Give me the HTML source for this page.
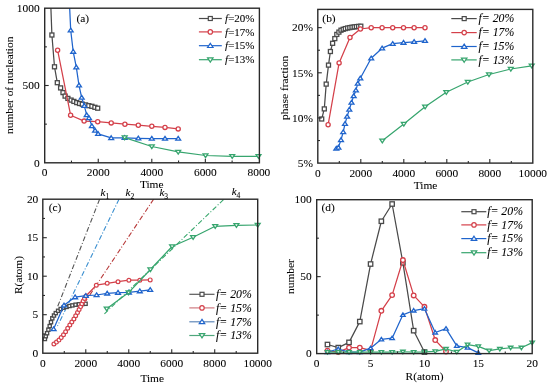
<!DOCTYPE html>
<html><head><meta charset="utf-8"><style>
html,body{margin:0;padding:0;background:#fff;width:550px;height:386px;overflow:hidden}
svg{display:block;filter:blur(0.35px)}
text{font-family:"Liberation Serif",serif;stroke:#000;stroke-width:0.07px}
</style></head><body>
<svg width="550" height="386" viewBox="0 0 550 386">
<rect width="550" height="386" fill="#fff"/>
<clipPath id="ca"><rect x="44.7" y="8.2" width="214.7" height="154.6"/></clipPath>
<polyline points="50.6,0 51.9,35 54.5,66.8 57.3,82.7 60.6,87.9 63,92.6 65.1,96.1 67.9,98.4 71.1,100.1 73.9,101.4 76.7,102.6 79.5,103.5 82.3,104.2 85.6,104.9 88.8,105.7 91.9,106.3 94.9,107.3 97.7,108.2" fill="none" stroke="#4a4a4a" stroke-width="1.25" stroke-linejoin="round" clip-path="url(#ca)"/>
<rect x="49.9" y="33" width="4" height="4" fill="#fff" stroke="#4a4a4a" stroke-width="1.3"/>
<rect x="52.5" y="64.8" width="4" height="4" fill="#fff" stroke="#4a4a4a" stroke-width="1.3"/>
<rect x="55.3" y="80.7" width="4" height="4" fill="#fff" stroke="#4a4a4a" stroke-width="1.3"/>
<rect x="58.6" y="85.9" width="4" height="4" fill="#fff" stroke="#4a4a4a" stroke-width="1.3"/>
<rect x="61" y="90.6" width="4" height="4" fill="#fff" stroke="#4a4a4a" stroke-width="1.3"/>
<rect x="63.1" y="94.1" width="4" height="4" fill="#fff" stroke="#4a4a4a" stroke-width="1.3"/>
<rect x="65.9" y="96.4" width="4" height="4" fill="#fff" stroke="#4a4a4a" stroke-width="1.3"/>
<rect x="69.1" y="98.1" width="4" height="4" fill="#fff" stroke="#4a4a4a" stroke-width="1.3"/>
<rect x="71.9" y="99.4" width="4" height="4" fill="#fff" stroke="#4a4a4a" stroke-width="1.3"/>
<rect x="74.7" y="100.6" width="4" height="4" fill="#fff" stroke="#4a4a4a" stroke-width="1.3"/>
<rect x="77.5" y="101.5" width="4" height="4" fill="#fff" stroke="#4a4a4a" stroke-width="1.3"/>
<rect x="80.3" y="102.2" width="4" height="4" fill="#fff" stroke="#4a4a4a" stroke-width="1.3"/>
<rect x="83.6" y="102.9" width="4" height="4" fill="#fff" stroke="#4a4a4a" stroke-width="1.3"/>
<rect x="86.8" y="103.7" width="4" height="4" fill="#fff" stroke="#4a4a4a" stroke-width="1.3"/>
<rect x="89.9" y="104.3" width="4" height="4" fill="#fff" stroke="#4a4a4a" stroke-width="1.3"/>
<rect x="92.9" y="105.3" width="4" height="4" fill="#fff" stroke="#4a4a4a" stroke-width="1.3"/>
<rect x="95.7" y="106.2" width="4" height="4" fill="#fff" stroke="#4a4a4a" stroke-width="1.3"/>
<polyline points="57.6,50.2 70.6,115.2 84.1,121.1 97.7,121.7 111.2,122.9 124.9,124.2 138.3,125.2 151.8,126.3 165,127.4 178.2,128.9" fill="none" stroke="#d4404a" stroke-width="1.25" stroke-linejoin="round" clip-path="url(#ca)"/>
<circle cx="57.6" cy="50.2" r="2.1" fill="#fff" stroke="#d4404a" stroke-width="1.3"/>
<circle cx="70.6" cy="115.2" r="2.1" fill="#fff" stroke="#d4404a" stroke-width="1.3"/>
<circle cx="84.1" cy="121.1" r="2.1" fill="#fff" stroke="#d4404a" stroke-width="1.3"/>
<circle cx="97.7" cy="121.7" r="2.1" fill="#fff" stroke="#d4404a" stroke-width="1.3"/>
<circle cx="111.2" cy="122.9" r="2.1" fill="#fff" stroke="#d4404a" stroke-width="1.3"/>
<circle cx="124.9" cy="124.2" r="2.1" fill="#fff" stroke="#d4404a" stroke-width="1.3"/>
<circle cx="138.3" cy="125.2" r="2.1" fill="#fff" stroke="#d4404a" stroke-width="1.3"/>
<circle cx="151.8" cy="126.3" r="2.1" fill="#fff" stroke="#d4404a" stroke-width="1.3"/>
<circle cx="165" cy="127.4" r="2.1" fill="#fff" stroke="#d4404a" stroke-width="1.3"/>
<circle cx="178.2" cy="128.9" r="2.1" fill="#fff" stroke="#d4404a" stroke-width="1.3"/>
<polyline points="69.3,0 70.7,30.3 73.2,51.6 76.3,67.2 79,85.3 81.7,97.6 84.3,105.8 86.7,114.9 89,118.1 91.9,125.9 95.1,130.6 98.1,133.8 111.2,137.9 124.6,137.8 138.3,138.3 151.8,138.6 165,138.6 178.2,138.6" fill="none" stroke="#1f64cc" stroke-width="1.25" stroke-linejoin="round" clip-path="url(#ca)"/>
<polygon points="70.7,28.18 73.15,31.93 68.25,31.93" fill="#fff" stroke="#1f64cc" stroke-width="1.3" stroke-linejoin="miter"/>
<polygon points="73.2,49.48 75.65,53.23 70.75,53.23" fill="#fff" stroke="#1f64cc" stroke-width="1.3" stroke-linejoin="miter"/>
<polygon points="76.3,65.08 78.75,68.83 73.85,68.83" fill="#fff" stroke="#1f64cc" stroke-width="1.3" stroke-linejoin="miter"/>
<polygon points="79,83.17 81.45,86.92 76.55,86.92" fill="#fff" stroke="#1f64cc" stroke-width="1.3" stroke-linejoin="miter"/>
<polygon points="81.7,95.47 84.15,99.22 79.25,99.22" fill="#fff" stroke="#1f64cc" stroke-width="1.3" stroke-linejoin="miter"/>
<polygon points="84.3,103.67 86.75,107.42 81.85,107.42" fill="#fff" stroke="#1f64cc" stroke-width="1.3" stroke-linejoin="miter"/>
<polygon points="86.7,112.78 89.15,116.53 84.25,116.53" fill="#fff" stroke="#1f64cc" stroke-width="1.3" stroke-linejoin="miter"/>
<polygon points="89,115.97 91.45,119.72 86.55,119.72" fill="#fff" stroke="#1f64cc" stroke-width="1.3" stroke-linejoin="miter"/>
<polygon points="91.9,123.78 94.35,127.53 89.45,127.53" fill="#fff" stroke="#1f64cc" stroke-width="1.3" stroke-linejoin="miter"/>
<polygon points="95.1,128.47 97.55,132.22 92.65,132.22" fill="#fff" stroke="#1f64cc" stroke-width="1.3" stroke-linejoin="miter"/>
<polygon points="98.1,131.68 100.55,135.43 95.65,135.43" fill="#fff" stroke="#1f64cc" stroke-width="1.3" stroke-linejoin="miter"/>
<polygon points="111.2,135.78 113.65,139.53 108.75,139.53" fill="#fff" stroke="#1f64cc" stroke-width="1.3" stroke-linejoin="miter"/>
<polygon points="124.6,135.68 127.05,139.43 122.15,139.43" fill="#fff" stroke="#1f64cc" stroke-width="1.3" stroke-linejoin="miter"/>
<polygon points="138.3,136.18 140.75,139.93 135.85,139.93" fill="#fff" stroke="#1f64cc" stroke-width="1.3" stroke-linejoin="miter"/>
<polygon points="151.8,136.47 154.25,140.22 149.35,140.22" fill="#fff" stroke="#1f64cc" stroke-width="1.3" stroke-linejoin="miter"/>
<polygon points="165,136.47 167.45,140.22 162.55,140.22" fill="#fff" stroke="#1f64cc" stroke-width="1.3" stroke-linejoin="miter"/>
<polygon points="178.2,136.47 180.65,140.22 175.75,140.22" fill="#fff" stroke="#1f64cc" stroke-width="1.3" stroke-linejoin="miter"/>
<polyline points="124.7,137.6 151.8,146.5 178.2,151.9 205.5,155.5 232.2,156.3 258.5,156.3" fill="none" stroke="#37a56e" stroke-width="1.25" stroke-linejoin="round" clip-path="url(#ca)"/>
<polygon points="124.7,139.72 127.15,135.97 122.25,135.97" fill="#fff" stroke="#37a56e" stroke-width="1.3" stroke-linejoin="miter"/>
<polygon points="151.8,148.62 154.25,144.88 149.35,144.88" fill="#fff" stroke="#37a56e" stroke-width="1.3" stroke-linejoin="miter"/>
<polygon points="178.2,154.03 180.65,150.28 175.75,150.28" fill="#fff" stroke="#37a56e" stroke-width="1.3" stroke-linejoin="miter"/>
<polygon points="205.5,157.62 207.95,153.88 203.05,153.88" fill="#fff" stroke="#37a56e" stroke-width="1.3" stroke-linejoin="miter"/>
<polygon points="232.2,158.43 234.65,154.68 229.75,154.68" fill="#fff" stroke="#37a56e" stroke-width="1.3" stroke-linejoin="miter"/>
<polygon points="258.5,158.43 260.95,154.68 256.05,154.68" fill="#fff" stroke="#37a56e" stroke-width="1.3" stroke-linejoin="miter"/>
<line x1="98.25" y1="162.8" x2="98.25" y2="158.8" stroke="#2a2a2a" stroke-width="1.1"/>
<line x1="151.8" y1="162.8" x2="151.8" y2="158.8" stroke="#2a2a2a" stroke-width="1.1"/>
<line x1="205.35" y1="162.8" x2="205.35" y2="158.8" stroke="#2a2a2a" stroke-width="1.1"/>
<line x1="71.47" y1="162.8" x2="71.47" y2="160.6" stroke="#2a2a2a" stroke-width="1.1"/>
<line x1="125.03" y1="162.8" x2="125.03" y2="160.6" stroke="#2a2a2a" stroke-width="1.1"/>
<line x1="178.57" y1="162.8" x2="178.57" y2="160.6" stroke="#2a2a2a" stroke-width="1.1"/>
<line x1="232.12" y1="162.8" x2="232.12" y2="160.6" stroke="#2a2a2a" stroke-width="1.1"/>
<line x1="44.7" y1="85.5" x2="48.7" y2="85.5" stroke="#2a2a2a" stroke-width="1.1"/>
<line x1="44.7" y1="124.15" x2="46.9" y2="124.15" stroke="#2a2a2a" stroke-width="1.1"/>
<line x1="44.7" y1="46.85" x2="46.9" y2="46.85" stroke="#2a2a2a" stroke-width="1.1"/>
<rect x="44.7" y="8.2" width="214.7" height="154.6" fill="none" stroke="#2a2a2a" stroke-width="1.4"/>
<text x="39.6" y="166.5" font-size="11.4" text-anchor="end" fill="#000">0</text>
<text x="39.6" y="89.2" font-size="11.4" text-anchor="end" fill="#000">500</text>
<text x="39.6" y="11.9" font-size="11.4" text-anchor="end" fill="#000">1000</text>
<text x="44.7" y="176" font-size="11.4" text-anchor="middle" fill="#000">0</text>
<text x="98.25" y="176" font-size="11.4" text-anchor="middle" fill="#000">2000</text>
<text x="151.8" y="176" font-size="11.4" text-anchor="middle" fill="#000">4000</text>
<text x="205.35" y="176" font-size="11.4" text-anchor="middle" fill="#000">6000</text>
<text x="258.9" y="176" font-size="11.4" text-anchor="middle" fill="#000">8000</text>
<text x="151.7" y="187.6" font-size="11.4" text-anchor="middle" fill="#000">Time</text>
<text x="13.2" y="85.3" font-size="11.4" text-anchor="middle" transform="rotate(-90 13.2 85.3)" fill="#000">number of nucleation</text>
<text x="82.8" y="22" font-size="11.4" text-anchor="middle" fill="#000">(a)</text>
<line x1="198.9" y1="18.5" x2="221.8" y2="18.5" stroke="#4a4a4a" stroke-width="1.2"/>
<rect x="208.3" y="16.5" width="4" height="4" fill="#fff" stroke="#4a4a4a" stroke-width="1.2"/>
<text x="225.1" y="22.2" font-size="11" fill="#000"><tspan font-style="italic">f</tspan>=20%</text>
<line x1="198.9" y1="31.9" x2="221.8" y2="31.9" stroke="#d4404a" stroke-width="1.2"/>
<circle cx="210.3" cy="31.9" r="2.2" fill="#fff" stroke="#d4404a" stroke-width="1.2"/>
<text x="225.1" y="35.6" font-size="11" fill="#000"><tspan font-style="italic">f</tspan>=17%</text>
<line x1="198.9" y1="45.7" x2="221.8" y2="45.7" stroke="#1f64cc" stroke-width="1.2"/>
<polygon points="210.3,43.32 213.04,47.52 207.56,47.52" fill="#fff" stroke="#1f64cc" stroke-width="1.2" stroke-linejoin="miter"/>
<text x="225.1" y="49.4" font-size="11" fill="#000"><tspan font-style="italic">f</tspan>=15%</text>
<line x1="198.9" y1="59.7" x2="221.8" y2="59.7" stroke="#37a56e" stroke-width="1.2"/>
<polygon points="210.3,62.08 213.04,57.88 207.56,57.88" fill="#fff" stroke="#37a56e" stroke-width="1.2" stroke-linejoin="miter"/>
<text x="225.1" y="63.4" font-size="11" fill="#000"><tspan font-style="italic">f</tspan>=13%</text>
<clipPath id="cb"><rect x="317.8" y="9.4" width="215" height="153.7"/></clipPath>
<polyline points="321.7,119 324.3,108.9 326.2,84.1 328.5,65.1 330.4,51.5 332.6,43.3 334.8,38.6 336.8,34.4 338.9,32.1 341,30.2 343.2,29.3 345.3,28.6 347.6,28 349.8,27.6 352,27.2 354.2,26.9 356.4,26.6 358.6,26.4 360.8,26.2" fill="none" stroke="#4a4a4a" stroke-width="1.25" stroke-linejoin="round" clip-path="url(#cb)"/>
<rect x="319.7" y="117" width="4" height="4" fill="#fff" stroke="#4a4a4a" stroke-width="1.3"/>
<rect x="322.3" y="106.9" width="4" height="4" fill="#fff" stroke="#4a4a4a" stroke-width="1.3"/>
<rect x="324.2" y="82.1" width="4" height="4" fill="#fff" stroke="#4a4a4a" stroke-width="1.3"/>
<rect x="326.5" y="63.1" width="4" height="4" fill="#fff" stroke="#4a4a4a" stroke-width="1.3"/>
<rect x="328.4" y="49.5" width="4" height="4" fill="#fff" stroke="#4a4a4a" stroke-width="1.3"/>
<rect x="330.6" y="41.3" width="4" height="4" fill="#fff" stroke="#4a4a4a" stroke-width="1.3"/>
<rect x="332.8" y="36.6" width="4" height="4" fill="#fff" stroke="#4a4a4a" stroke-width="1.3"/>
<rect x="334.8" y="32.4" width="4" height="4" fill="#fff" stroke="#4a4a4a" stroke-width="1.3"/>
<rect x="336.9" y="30.1" width="4" height="4" fill="#fff" stroke="#4a4a4a" stroke-width="1.3"/>
<rect x="339" y="28.2" width="4" height="4" fill="#fff" stroke="#4a4a4a" stroke-width="1.3"/>
<rect x="341.2" y="27.3" width="4" height="4" fill="#fff" stroke="#4a4a4a" stroke-width="1.3"/>
<rect x="343.3" y="26.6" width="4" height="4" fill="#fff" stroke="#4a4a4a" stroke-width="1.3"/>
<rect x="345.6" y="26" width="4" height="4" fill="#fff" stroke="#4a4a4a" stroke-width="1.3"/>
<rect x="347.8" y="25.6" width="4" height="4" fill="#fff" stroke="#4a4a4a" stroke-width="1.3"/>
<rect x="350" y="25.2" width="4" height="4" fill="#fff" stroke="#4a4a4a" stroke-width="1.3"/>
<rect x="352.2" y="24.9" width="4" height="4" fill="#fff" stroke="#4a4a4a" stroke-width="1.3"/>
<rect x="354.4" y="24.6" width="4" height="4" fill="#fff" stroke="#4a4a4a" stroke-width="1.3"/>
<rect x="356.6" y="24.4" width="4" height="4" fill="#fff" stroke="#4a4a4a" stroke-width="1.3"/>
<rect x="358.8" y="24.2" width="4" height="4" fill="#fff" stroke="#4a4a4a" stroke-width="1.3"/>
<polyline points="328.1,124.8 339.1,62.9 350,37.5 360.4,29 371.2,27.7 382.1,27.7 392.7,27.7 403.5,27.7 414.1,27.7 425,27.7" fill="none" stroke="#d4404a" stroke-width="1.25" stroke-linejoin="round" clip-path="url(#cb)"/>
<circle cx="328.1" cy="124.8" r="2.1" fill="#fff" stroke="#d4404a" stroke-width="1.3"/>
<circle cx="339.1" cy="62.9" r="2.1" fill="#fff" stroke="#d4404a" stroke-width="1.3"/>
<circle cx="350" cy="37.5" r="2.1" fill="#fff" stroke="#d4404a" stroke-width="1.3"/>
<circle cx="360.4" cy="29" r="2.1" fill="#fff" stroke="#d4404a" stroke-width="1.3"/>
<circle cx="371.2" cy="27.7" r="2.1" fill="#fff" stroke="#d4404a" stroke-width="1.3"/>
<circle cx="382.1" cy="27.7" r="2.1" fill="#fff" stroke="#d4404a" stroke-width="1.3"/>
<circle cx="392.7" cy="27.7" r="2.1" fill="#fff" stroke="#d4404a" stroke-width="1.3"/>
<circle cx="403.5" cy="27.7" r="2.1" fill="#fff" stroke="#d4404a" stroke-width="1.3"/>
<circle cx="414.1" cy="27.7" r="2.1" fill="#fff" stroke="#d4404a" stroke-width="1.3"/>
<circle cx="425" cy="27.7" r="2.1" fill="#fff" stroke="#d4404a" stroke-width="1.3"/>
<polyline points="336.3,148.6 338.4,147.4 341,139.9 343.2,132 345,123.8 347.1,116.6 349.3,109.6 351.5,102.5 353.7,95.9 355.9,90.2 357.8,83.6 360.3,78.3 371.2,58.2 382.1,48.2 392.7,43.7 403.5,42.6 414.1,41.8 425,40.8" fill="none" stroke="#1f64cc" stroke-width="1.25" stroke-linejoin="round" clip-path="url(#cb)"/>
<polygon points="336.3,146.47 338.75,150.22 333.85,150.22" fill="#fff" stroke="#1f64cc" stroke-width="1.3" stroke-linejoin="miter"/>
<polygon points="338.4,145.28 340.85,149.03 335.95,149.03" fill="#fff" stroke="#1f64cc" stroke-width="1.3" stroke-linejoin="miter"/>
<polygon points="341,137.78 343.45,141.53 338.55,141.53" fill="#fff" stroke="#1f64cc" stroke-width="1.3" stroke-linejoin="miter"/>
<polygon points="343.2,129.88 345.65,133.62 340.75,133.62" fill="#fff" stroke="#1f64cc" stroke-width="1.3" stroke-linejoin="miter"/>
<polygon points="345,121.67 347.45,125.42 342.55,125.42" fill="#fff" stroke="#1f64cc" stroke-width="1.3" stroke-linejoin="miter"/>
<polygon points="347.1,114.47 349.55,118.22 344.65,118.22" fill="#fff" stroke="#1f64cc" stroke-width="1.3" stroke-linejoin="miter"/>
<polygon points="349.3,107.47 351.75,111.22 346.85,111.22" fill="#fff" stroke="#1f64cc" stroke-width="1.3" stroke-linejoin="miter"/>
<polygon points="351.5,100.38 353.95,104.12 349.05,104.12" fill="#fff" stroke="#1f64cc" stroke-width="1.3" stroke-linejoin="miter"/>
<polygon points="353.7,93.78 356.15,97.53 351.25,97.53" fill="#fff" stroke="#1f64cc" stroke-width="1.3" stroke-linejoin="miter"/>
<polygon points="355.9,88.08 358.35,91.83 353.45,91.83" fill="#fff" stroke="#1f64cc" stroke-width="1.3" stroke-linejoin="miter"/>
<polygon points="357.8,81.47 360.25,85.22 355.35,85.22" fill="#fff" stroke="#1f64cc" stroke-width="1.3" stroke-linejoin="miter"/>
<polygon points="360.3,76.17 362.75,79.92 357.85,79.92" fill="#fff" stroke="#1f64cc" stroke-width="1.3" stroke-linejoin="miter"/>
<polygon points="371.2,56.08 373.65,59.83 368.75,59.83" fill="#fff" stroke="#1f64cc" stroke-width="1.3" stroke-linejoin="miter"/>
<polygon points="382.1,46.08 384.55,49.83 379.65,49.83" fill="#fff" stroke="#1f64cc" stroke-width="1.3" stroke-linejoin="miter"/>
<polygon points="392.7,41.58 395.15,45.33 390.25,45.33" fill="#fff" stroke="#1f64cc" stroke-width="1.3" stroke-linejoin="miter"/>
<polygon points="403.5,40.48 405.95,44.23 401.05,44.23" fill="#fff" stroke="#1f64cc" stroke-width="1.3" stroke-linejoin="miter"/>
<polygon points="414.1,39.67 416.55,43.42 411.65,43.42" fill="#fff" stroke="#1f64cc" stroke-width="1.3" stroke-linejoin="miter"/>
<polygon points="425,38.67 427.45,42.42 422.55,42.42" fill="#fff" stroke="#1f64cc" stroke-width="1.3" stroke-linejoin="miter"/>
<polyline points="382.3,140.8 403.8,123.9 425.1,106.8 446.3,92.2 467.8,82 489,74.5 510.8,69 531.7,65.8" fill="none" stroke="#37a56e" stroke-width="1.25" stroke-linejoin="round" clip-path="url(#cb)"/>
<polygon points="382.3,142.93 384.75,139.18 379.85,139.18" fill="#fff" stroke="#37a56e" stroke-width="1.3" stroke-linejoin="miter"/>
<polygon points="403.8,126.03 406.25,122.28 401.35,122.28" fill="#fff" stroke="#37a56e" stroke-width="1.3" stroke-linejoin="miter"/>
<polygon points="425.1,108.92 427.55,105.17 422.65,105.17" fill="#fff" stroke="#37a56e" stroke-width="1.3" stroke-linejoin="miter"/>
<polygon points="446.3,94.33 448.75,90.58 443.85,90.58" fill="#fff" stroke="#37a56e" stroke-width="1.3" stroke-linejoin="miter"/>
<polygon points="467.8,84.12 470.25,80.38 465.35,80.38" fill="#fff" stroke="#37a56e" stroke-width="1.3" stroke-linejoin="miter"/>
<polygon points="489,76.62 491.45,72.88 486.55,72.88" fill="#fff" stroke="#37a56e" stroke-width="1.3" stroke-linejoin="miter"/>
<polygon points="510.8,71.12 513.25,67.38 508.35,67.38" fill="#fff" stroke="#37a56e" stroke-width="1.3" stroke-linejoin="miter"/>
<polygon points="531.7,67.92 534.15,64.17 529.25,64.17" fill="#fff" stroke="#37a56e" stroke-width="1.3" stroke-linejoin="miter"/>
<line x1="360.8" y1="163.1" x2="360.8" y2="159.1" stroke="#2a2a2a" stroke-width="1.1"/>
<line x1="403.8" y1="163.1" x2="403.8" y2="159.1" stroke="#2a2a2a" stroke-width="1.1"/>
<line x1="446.8" y1="163.1" x2="446.8" y2="159.1" stroke="#2a2a2a" stroke-width="1.1"/>
<line x1="489.8" y1="163.1" x2="489.8" y2="159.1" stroke="#2a2a2a" stroke-width="1.1"/>
<line x1="339.3" y1="163.1" x2="339.3" y2="160.9" stroke="#2a2a2a" stroke-width="1.1"/>
<line x1="382.3" y1="163.1" x2="382.3" y2="160.9" stroke="#2a2a2a" stroke-width="1.1"/>
<line x1="425.3" y1="163.1" x2="425.3" y2="160.9" stroke="#2a2a2a" stroke-width="1.1"/>
<line x1="468.3" y1="163.1" x2="468.3" y2="160.9" stroke="#2a2a2a" stroke-width="1.1"/>
<line x1="511.3" y1="163.1" x2="511.3" y2="160.9" stroke="#2a2a2a" stroke-width="1.1"/>
<line x1="317.8" y1="117.95" x2="321.8" y2="117.95" stroke="#2a2a2a" stroke-width="1.1"/>
<line x1="317.8" y1="72.8" x2="321.8" y2="72.8" stroke="#2a2a2a" stroke-width="1.1"/>
<line x1="317.8" y1="27.65" x2="321.8" y2="27.65" stroke="#2a2a2a" stroke-width="1.1"/>
<line x1="317.8" y1="140.53" x2="320" y2="140.53" stroke="#2a2a2a" stroke-width="1.1"/>
<line x1="317.8" y1="95.38" x2="320" y2="95.38" stroke="#2a2a2a" stroke-width="1.1"/>
<line x1="317.8" y1="50.23" x2="320" y2="50.23" stroke="#2a2a2a" stroke-width="1.1"/>
<rect x="317.8" y="9.4" width="215" height="153.7" fill="none" stroke="#2a2a2a" stroke-width="1.4"/>
<text x="313" y="166.8" font-size="11.4" text-anchor="end" fill="#000">5%</text>
<text x="313" y="121.65" font-size="11.4" text-anchor="end" fill="#000">10%</text>
<text x="313" y="76.5" font-size="11.4" text-anchor="end" fill="#000">15%</text>
<text x="313" y="31.35" font-size="11.4" text-anchor="end" fill="#000">20%</text>
<text x="317.8" y="176.6" font-size="11.4" text-anchor="middle" fill="#000">0</text>
<text x="360.8" y="176.6" font-size="11.4" text-anchor="middle" fill="#000">2000</text>
<text x="403.8" y="176.6" font-size="11.4" text-anchor="middle" fill="#000">4000</text>
<text x="446.8" y="176.6" font-size="11.4" text-anchor="middle" fill="#000">6000</text>
<text x="489.8" y="176.6" font-size="11.4" text-anchor="middle" fill="#000">8000</text>
<text x="532.8" y="176.6" font-size="11.4" text-anchor="middle" fill="#000">10000</text>
<text x="425.6" y="189" font-size="11.4" text-anchor="middle" fill="#000">Time</text>
<text x="287.9" y="87.8" font-size="11.4" text-anchor="middle" transform="rotate(-90 287.9 87.8)" fill="#000">phase fraction</text>
<text x="329" y="21.5" font-size="11.4" text-anchor="middle" fill="#000">(b)</text>
<line x1="451.3" y1="18.6" x2="476.7" y2="18.6" stroke="#4a4a4a" stroke-width="1.2"/>
<rect x="462.2" y="16.6" width="4" height="4" fill="#fff" stroke="#4a4a4a" stroke-width="1.2"/>
<text x="478.5" y="22.3" font-size="11.8" font-style="italic" fill="#000">f= 20%</text>
<line x1="451.3" y1="32.6" x2="476.7" y2="32.6" stroke="#d4404a" stroke-width="1.2"/>
<circle cx="464.2" cy="32.6" r="2.2" fill="#fff" stroke="#d4404a" stroke-width="1.2"/>
<text x="478.5" y="36.3" font-size="11.8" font-style="italic" fill="#000">f= 17%</text>
<line x1="451.3" y1="46.5" x2="476.7" y2="46.5" stroke="#1f64cc" stroke-width="1.2"/>
<polygon points="464.2,44.12 466.94,48.32 461.46,48.32" fill="#fff" stroke="#1f64cc" stroke-width="1.2" stroke-linejoin="miter"/>
<text x="478.5" y="50.2" font-size="11.8" font-style="italic" fill="#000">f= 15%</text>
<line x1="451.3" y1="59.9" x2="476.7" y2="59.9" stroke="#37a56e" stroke-width="1.2"/>
<polygon points="464.2,62.28 466.94,58.08 461.46,58.08" fill="#fff" stroke="#37a56e" stroke-width="1.2" stroke-linejoin="miter"/>
<text x="478.5" y="63.6" font-size="11.8" font-style="italic" fill="#000">f= 13%</text>
<clipPath id="cc"><rect x="42.8" y="199.2" width="214.9" height="154"/></clipPath>
<line x1="99.6" y1="199.2" x2="57.5" y2="307" stroke="#555" stroke-width="1.1" stroke-dasharray="5,2,1,2"/>
<line x1="119" y1="199.2" x2="57.5" y2="326" stroke="#3a8fd0" stroke-width="1.1" stroke-dasharray="5,2,1,2"/>
<line x1="153.6" y1="199.2" x2="86" y2="300.7" stroke="#b83a3a" stroke-width="1.1" stroke-dasharray="5,2,1,2"/>
<line x1="223.5" y1="199.6" x2="103.2" y2="315" stroke="#3aa86e" stroke-width="1.1" stroke-dasharray="5,2,1,2"/>
<polyline points="44.9,339 45.8,336.2 47.1,333.2 48.4,329.7 49.7,326.1 51,322.2 52.3,318.3 54,315.5 55.8,313.1 58.1,310.8 60.7,309 63.3,307.7 66.6,306.9 69.5,306 72.4,305.4 75.6,304.7 78.9,304.3 82.1,304.1 85.6,303.8" fill="none" stroke="#4a4a4a" stroke-width="1.25" stroke-linejoin="round" clip-path="url(#cc)"/>
<rect x="43.3" y="337.4" width="3.2" height="3.2" fill="#fff" stroke="#4a4a4a" stroke-width="1.3"/>
<rect x="44.2" y="334.6" width="3.2" height="3.2" fill="#fff" stroke="#4a4a4a" stroke-width="1.3"/>
<rect x="45.5" y="331.6" width="3.2" height="3.2" fill="#fff" stroke="#4a4a4a" stroke-width="1.3"/>
<rect x="46.8" y="328.1" width="3.2" height="3.2" fill="#fff" stroke="#4a4a4a" stroke-width="1.3"/>
<rect x="48.1" y="324.5" width="3.2" height="3.2" fill="#fff" stroke="#4a4a4a" stroke-width="1.3"/>
<rect x="49.4" y="320.6" width="3.2" height="3.2" fill="#fff" stroke="#4a4a4a" stroke-width="1.3"/>
<rect x="50.7" y="316.7" width="3.2" height="3.2" fill="#fff" stroke="#4a4a4a" stroke-width="1.3"/>
<rect x="52.4" y="313.9" width="3.2" height="3.2" fill="#fff" stroke="#4a4a4a" stroke-width="1.3"/>
<rect x="54.2" y="311.5" width="3.2" height="3.2" fill="#fff" stroke="#4a4a4a" stroke-width="1.3"/>
<rect x="56.5" y="309.2" width="3.2" height="3.2" fill="#fff" stroke="#4a4a4a" stroke-width="1.3"/>
<rect x="59.1" y="307.4" width="3.2" height="3.2" fill="#fff" stroke="#4a4a4a" stroke-width="1.3"/>
<rect x="61.7" y="306.1" width="3.2" height="3.2" fill="#fff" stroke="#4a4a4a" stroke-width="1.3"/>
<rect x="65" y="305.3" width="3.2" height="3.2" fill="#fff" stroke="#4a4a4a" stroke-width="1.3"/>
<rect x="67.9" y="304.4" width="3.2" height="3.2" fill="#fff" stroke="#4a4a4a" stroke-width="1.3"/>
<rect x="70.8" y="303.8" width="3.2" height="3.2" fill="#fff" stroke="#4a4a4a" stroke-width="1.3"/>
<rect x="74" y="303.1" width="3.2" height="3.2" fill="#fff" stroke="#4a4a4a" stroke-width="1.3"/>
<rect x="77.3" y="302.7" width="3.2" height="3.2" fill="#fff" stroke="#4a4a4a" stroke-width="1.3"/>
<rect x="80.5" y="302.5" width="3.2" height="3.2" fill="#fff" stroke="#4a4a4a" stroke-width="1.3"/>
<rect x="84" y="302.2" width="3.2" height="3.2" fill="#fff" stroke="#4a4a4a" stroke-width="1.3"/>
<polyline points="53.9,344 56.5,342.1 59,340.1 61.2,337.6 63.5,334.8 65.6,331.7 67.7,328.3 69.8,325 71.8,322 73.9,319 75.7,315.8 77.5,312.6 79.1,309.5 80.6,306.6 81.9,303.8 83.2,300.9 84.5,298.4 86,296 96.3,285.2 107.2,283.3 118,281.7 128.9,280.2 139.8,280.2 150.2,279.9" fill="none" stroke="#d4404a" stroke-width="1.25" stroke-linejoin="round" clip-path="url(#cc)"/>
<circle cx="53.9" cy="344" r="1.9" fill="#fff" stroke="#d4404a" stroke-width="1.2"/>
<circle cx="56.5" cy="342.1" r="1.9" fill="#fff" stroke="#d4404a" stroke-width="1.2"/>
<circle cx="59" cy="340.1" r="1.9" fill="#fff" stroke="#d4404a" stroke-width="1.2"/>
<circle cx="61.2" cy="337.6" r="1.9" fill="#fff" stroke="#d4404a" stroke-width="1.2"/>
<circle cx="63.5" cy="334.8" r="1.9" fill="#fff" stroke="#d4404a" stroke-width="1.2"/>
<circle cx="65.6" cy="331.7" r="1.9" fill="#fff" stroke="#d4404a" stroke-width="1.2"/>
<circle cx="67.7" cy="328.3" r="1.9" fill="#fff" stroke="#d4404a" stroke-width="1.2"/>
<circle cx="69.8" cy="325" r="1.9" fill="#fff" stroke="#d4404a" stroke-width="1.2"/>
<circle cx="71.8" cy="322" r="1.9" fill="#fff" stroke="#d4404a" stroke-width="1.2"/>
<circle cx="73.9" cy="319" r="1.9" fill="#fff" stroke="#d4404a" stroke-width="1.2"/>
<circle cx="75.7" cy="315.8" r="1.9" fill="#fff" stroke="#d4404a" stroke-width="1.2"/>
<circle cx="77.5" cy="312.6" r="1.9" fill="#fff" stroke="#d4404a" stroke-width="1.2"/>
<circle cx="79.1" cy="309.5" r="1.9" fill="#fff" stroke="#d4404a" stroke-width="1.2"/>
<circle cx="80.6" cy="306.6" r="1.9" fill="#fff" stroke="#d4404a" stroke-width="1.2"/>
<circle cx="81.9" cy="303.8" r="1.9" fill="#fff" stroke="#d4404a" stroke-width="1.2"/>
<circle cx="83.2" cy="300.9" r="1.9" fill="#fff" stroke="#d4404a" stroke-width="1.2"/>
<circle cx="84.5" cy="298.4" r="1.9" fill="#fff" stroke="#d4404a" stroke-width="1.2"/>
<circle cx="86" cy="296" r="1.9" fill="#fff" stroke="#d4404a" stroke-width="1.2"/>
<circle cx="96.3" cy="285.2" r="1.9" fill="#fff" stroke="#d4404a" stroke-width="1.2"/>
<circle cx="107.2" cy="283.3" r="1.9" fill="#fff" stroke="#d4404a" stroke-width="1.2"/>
<circle cx="118" cy="281.7" r="1.9" fill="#fff" stroke="#d4404a" stroke-width="1.2"/>
<circle cx="128.9" cy="280.2" r="1.9" fill="#fff" stroke="#d4404a" stroke-width="1.2"/>
<circle cx="139.8" cy="280.2" r="1.9" fill="#fff" stroke="#d4404a" stroke-width="1.2"/>
<circle cx="150.2" cy="279.9" r="1.9" fill="#fff" stroke="#d4404a" stroke-width="1.2"/>
<polyline points="53.6,329 64,305.3 75.1,297.1 85.8,295.7 96.6,295 107.2,293.4 118,292.6 128.9,292.4 139.8,291.1 150.2,289.8" fill="none" stroke="#1f64cc" stroke-width="1.25" stroke-linejoin="round" clip-path="url(#cc)"/>
<polygon points="53.6,326.88 56.05,330.62 51.15,330.62" fill="#fff" stroke="#1f64cc" stroke-width="1.3" stroke-linejoin="miter"/>
<polygon points="64,303.18 66.45,306.93 61.55,306.93" fill="#fff" stroke="#1f64cc" stroke-width="1.3" stroke-linejoin="miter"/>
<polygon points="75.1,294.98 77.55,298.73 72.65,298.73" fill="#fff" stroke="#1f64cc" stroke-width="1.3" stroke-linejoin="miter"/>
<polygon points="85.8,293.57 88.25,297.32 83.35,297.32" fill="#fff" stroke="#1f64cc" stroke-width="1.3" stroke-linejoin="miter"/>
<polygon points="96.6,292.88 99.05,296.62 94.15,296.62" fill="#fff" stroke="#1f64cc" stroke-width="1.3" stroke-linejoin="miter"/>
<polygon points="107.2,291.27 109.65,295.02 104.75,295.02" fill="#fff" stroke="#1f64cc" stroke-width="1.3" stroke-linejoin="miter"/>
<polygon points="118,290.48 120.45,294.23 115.55,294.23" fill="#fff" stroke="#1f64cc" stroke-width="1.3" stroke-linejoin="miter"/>
<polygon points="128.9,290.27 131.35,294.02 126.45,294.02" fill="#fff" stroke="#1f64cc" stroke-width="1.3" stroke-linejoin="miter"/>
<polygon points="139.8,288.98 142.25,292.73 137.35,292.73" fill="#fff" stroke="#1f64cc" stroke-width="1.3" stroke-linejoin="miter"/>
<polygon points="150.2,287.68 152.65,291.43 147.75,291.43" fill="#fff" stroke="#1f64cc" stroke-width="1.3" stroke-linejoin="miter"/>
<polyline points="106.7,308.8 128.6,292.6 150.4,269.5 172.1,246.5 193.1,237.2 215.2,226.3 236.4,225.3 257.7,225" fill="none" stroke="#37a56e" stroke-width="1.25" stroke-linejoin="round" clip-path="url(#cc)"/>
<polygon points="106.7,310.93 109.15,307.18 104.25,307.18" fill="#fff" stroke="#37a56e" stroke-width="1.3" stroke-linejoin="miter"/>
<polygon points="128.6,294.73 131.05,290.98 126.15,290.98" fill="#fff" stroke="#37a56e" stroke-width="1.3" stroke-linejoin="miter"/>
<polygon points="150.4,271.62 152.85,267.88 147.95,267.88" fill="#fff" stroke="#37a56e" stroke-width="1.3" stroke-linejoin="miter"/>
<polygon points="172.1,248.62 174.55,244.88 169.65,244.88" fill="#fff" stroke="#37a56e" stroke-width="1.3" stroke-linejoin="miter"/>
<polygon points="193.1,239.32 195.55,235.57 190.65,235.57" fill="#fff" stroke="#37a56e" stroke-width="1.3" stroke-linejoin="miter"/>
<polygon points="215.2,228.43 217.65,224.68 212.75,224.68" fill="#fff" stroke="#37a56e" stroke-width="1.3" stroke-linejoin="miter"/>
<polygon points="236.4,227.43 238.85,223.68 233.95,223.68" fill="#fff" stroke="#37a56e" stroke-width="1.3" stroke-linejoin="miter"/>
<polygon points="257.7,227.12 260.15,223.38 255.25,223.38" fill="#fff" stroke="#37a56e" stroke-width="1.3" stroke-linejoin="miter"/>
<line x1="85.78" y1="353.2" x2="85.78" y2="349.2" stroke="#2a2a2a" stroke-width="1.1"/>
<line x1="128.76" y1="353.2" x2="128.76" y2="349.2" stroke="#2a2a2a" stroke-width="1.1"/>
<line x1="171.74" y1="353.2" x2="171.74" y2="349.2" stroke="#2a2a2a" stroke-width="1.1"/>
<line x1="214.72" y1="353.2" x2="214.72" y2="349.2" stroke="#2a2a2a" stroke-width="1.1"/>
<line x1="64.29" y1="353.2" x2="64.29" y2="351" stroke="#2a2a2a" stroke-width="1.1"/>
<line x1="107.27" y1="353.2" x2="107.27" y2="351" stroke="#2a2a2a" stroke-width="1.1"/>
<line x1="150.25" y1="353.2" x2="150.25" y2="351" stroke="#2a2a2a" stroke-width="1.1"/>
<line x1="193.23" y1="353.2" x2="193.23" y2="351" stroke="#2a2a2a" stroke-width="1.1"/>
<line x1="236.21" y1="353.2" x2="236.21" y2="351" stroke="#2a2a2a" stroke-width="1.1"/>
<line x1="42.8" y1="314.7" x2="46.8" y2="314.7" stroke="#2a2a2a" stroke-width="1.1"/>
<line x1="42.8" y1="276.2" x2="46.8" y2="276.2" stroke="#2a2a2a" stroke-width="1.1"/>
<line x1="42.8" y1="237.7" x2="46.8" y2="237.7" stroke="#2a2a2a" stroke-width="1.1"/>
<line x1="42.8" y1="333.95" x2="45" y2="333.95" stroke="#2a2a2a" stroke-width="1.1"/>
<line x1="42.8" y1="295.45" x2="45" y2="295.45" stroke="#2a2a2a" stroke-width="1.1"/>
<line x1="42.8" y1="256.95" x2="45" y2="256.95" stroke="#2a2a2a" stroke-width="1.1"/>
<line x1="42.8" y1="218.45" x2="45" y2="218.45" stroke="#2a2a2a" stroke-width="1.1"/>
<rect x="42.8" y="199.2" width="214.9" height="154" fill="none" stroke="#2a2a2a" stroke-width="1.4"/>
<text x="38.3" y="356.9" font-size="11.4" text-anchor="end" fill="#000">0</text>
<text x="38.3" y="318.4" font-size="11.4" text-anchor="end" fill="#000">5</text>
<text x="38.3" y="279.9" font-size="11.4" text-anchor="end" fill="#000">10</text>
<text x="38.3" y="241.4" font-size="11.4" text-anchor="end" fill="#000">15</text>
<text x="38.3" y="202.9" font-size="11.4" text-anchor="end" fill="#000">20</text>
<text x="42.8" y="366.5" font-size="11.4" text-anchor="middle" fill="#000">0</text>
<text x="85.78" y="366.5" font-size="11.4" text-anchor="middle" fill="#000">2000</text>
<text x="128.76" y="366.5" font-size="11.4" text-anchor="middle" fill="#000">4000</text>
<text x="171.74" y="366.5" font-size="11.4" text-anchor="middle" fill="#000">6000</text>
<text x="214.72" y="366.5" font-size="11.4" text-anchor="middle" fill="#000">8000</text>
<text x="257.7" y="366.5" font-size="11.4" text-anchor="middle" fill="#000">10000</text>
<text x="152.2" y="381.7" font-size="11.4" text-anchor="middle" fill="#000">Time</text>
<text x="22.4" y="275" font-size="11.4" text-anchor="middle" transform="rotate(-90 22.4 275)" fill="#000">R(atom)</text>
<text x="55" y="210.6" font-size="11.4" text-anchor="middle" fill="#000">(c)</text>
<text x="100.5" y="196.4" font-size="11" font-style="italic" fill="#000">k<tspan font-size="7.6" dy="3" font-style="normal">1</tspan></text>
<text x="125.5" y="196.4" font-size="11" font-style="italic" fill="#000">k<tspan font-size="7.6" dy="3" font-style="normal">2</tspan></text>
<text x="159.4" y="196.4" font-size="11" font-style="italic" fill="#000">k<tspan font-size="7.6" dy="3" font-style="normal">3</tspan></text>
<text x="231.7" y="195.3" font-size="11" font-style="italic" fill="#000">k<tspan font-size="7.6" dy="3" font-style="normal">4</tspan></text>
<line x1="189.3" y1="294.3" x2="214.5" y2="294.3" stroke="#5a5a5a" stroke-width="1.2"/>
<rect x="200" y="292.3" width="4" height="4" fill="#fff" stroke="#4a4a4a" stroke-width="1.2"/>
<text x="216" y="298" font-size="11.8" font-style="italic" fill="#000">f= 20%</text>
<line x1="189.3" y1="307.9" x2="214.5" y2="307.9" stroke="#cf7a80" stroke-width="1.2"/>
<circle cx="202" cy="307.9" r="2.2" fill="#fff" stroke="#d4404a" stroke-width="1.2"/>
<text x="216" y="311.6" font-size="11.8" font-style="italic" fill="#000">f= 15%</text>
<line x1="189.3" y1="321.8" x2="214.5" y2="321.8" stroke="#6088b8" stroke-width="1.2"/>
<polygon points="202,319.42 204.74,323.62 199.26,323.62" fill="#fff" stroke="#1f64cc" stroke-width="1.2" stroke-linejoin="miter"/>
<text x="216" y="325.5" font-size="11.8" font-style="italic" fill="#000">f= 17%</text>
<line x1="189.3" y1="335.5" x2="214.5" y2="335.5" stroke="#4fa77c" stroke-width="1.2"/>
<polygon points="202,337.88 204.74,333.68 199.26,333.68" fill="#fff" stroke="#37a56e" stroke-width="1.2" stroke-linejoin="miter"/>
<text x="216" y="339.2" font-size="11.8" font-style="italic" fill="#000">f= 13%</text>
<clipPath id="cd"><rect x="316.7" y="199.7" width="215.5" height="153.9"/></clipPath>
<polyline points="327.47,344.52 338.25,347.6 349.02,342.37 359.8,321.59 370.57,264.03 381.35,221.25 392.12,204.01 402.9,262.8 413.68,330.67 424.45,352.06" fill="none" stroke="#4a4a4a" stroke-width="1.25" stroke-linejoin="round" clip-path="url(#cd)"/>
<rect x="325.27" y="342.32" width="4.4" height="4.4" fill="#fff" stroke="#4a4a4a" stroke-width="1.3"/>
<rect x="336.05" y="345.4" width="4.4" height="4.4" fill="#fff" stroke="#4a4a4a" stroke-width="1.3"/>
<rect x="346.82" y="340.17" width="4.4" height="4.4" fill="#fff" stroke="#4a4a4a" stroke-width="1.3"/>
<rect x="357.6" y="319.39" width="4.4" height="4.4" fill="#fff" stroke="#4a4a4a" stroke-width="1.3"/>
<rect x="368.38" y="261.83" width="4.4" height="4.4" fill="#fff" stroke="#4a4a4a" stroke-width="1.3"/>
<rect x="379.15" y="219.05" width="4.4" height="4.4" fill="#fff" stroke="#4a4a4a" stroke-width="1.3"/>
<rect x="389.93" y="201.81" width="4.4" height="4.4" fill="#fff" stroke="#4a4a4a" stroke-width="1.3"/>
<rect x="400.7" y="260.6" width="4.4" height="4.4" fill="#fff" stroke="#4a4a4a" stroke-width="1.3"/>
<rect x="411.48" y="328.47" width="4.4" height="4.4" fill="#fff" stroke="#4a4a4a" stroke-width="1.3"/>
<rect x="422.25" y="349.86" width="4.4" height="4.4" fill="#fff" stroke="#4a4a4a" stroke-width="1.3"/>
<polyline points="327.47,350.68 338.25,352.06 349.02,347.6 359.8,347.6 370.57,350.37 381.35,310.82 392.12,295.12 402.9,260.03 413.68,295.43 424.45,306.81 435.23,340.06 446,351.45" fill="none" stroke="#d4404a" stroke-width="1.25" stroke-linejoin="round" clip-path="url(#cd)"/>
<circle cx="327.47" cy="350.68" r="2.3" fill="#fff" stroke="#d4404a" stroke-width="1.3"/>
<circle cx="338.25" cy="352.06" r="2.3" fill="#fff" stroke="#d4404a" stroke-width="1.3"/>
<circle cx="349.02" cy="347.6" r="2.3" fill="#fff" stroke="#d4404a" stroke-width="1.3"/>
<circle cx="359.8" cy="347.6" r="2.3" fill="#fff" stroke="#d4404a" stroke-width="1.3"/>
<circle cx="370.57" cy="350.37" r="2.3" fill="#fff" stroke="#d4404a" stroke-width="1.3"/>
<circle cx="381.35" cy="310.82" r="2.3" fill="#fff" stroke="#d4404a" stroke-width="1.3"/>
<circle cx="392.12" cy="295.12" r="2.3" fill="#fff" stroke="#d4404a" stroke-width="1.3"/>
<circle cx="402.9" cy="260.03" r="2.3" fill="#fff" stroke="#d4404a" stroke-width="1.3"/>
<circle cx="413.68" cy="295.43" r="2.3" fill="#fff" stroke="#d4404a" stroke-width="1.3"/>
<circle cx="424.45" cy="306.81" r="2.3" fill="#fff" stroke="#d4404a" stroke-width="1.3"/>
<circle cx="435.23" cy="340.06" r="2.3" fill="#fff" stroke="#d4404a" stroke-width="1.3"/>
<circle cx="446" cy="351.45" r="2.3" fill="#fff" stroke="#d4404a" stroke-width="1.3"/>
<polyline points="327.47,352.06 338.25,348.98 349.02,352.06 359.8,352.06 370.57,348.21 381.35,339.29 392.12,338.21 402.9,314.82 413.68,310.51 424.45,308.66 435.23,332.52 446,328.67 456.78,345.91 467.55,347.6 478.33,352.83" fill="none" stroke="#1f64cc" stroke-width="1.25" stroke-linejoin="round" clip-path="url(#cd)"/>
<polygon points="327.47,350.11 329.73,353.56 325.22,353.56" fill="#fff" stroke="#1f64cc" stroke-width="1.3" stroke-linejoin="miter"/>
<polygon points="338.25,347.03 340.5,350.48 336,350.48" fill="#fff" stroke="#1f64cc" stroke-width="1.3" stroke-linejoin="miter"/>
<polygon points="349.02,350.11 351.28,353.56 346.77,353.56" fill="#fff" stroke="#1f64cc" stroke-width="1.3" stroke-linejoin="miter"/>
<polygon points="359.8,350.11 362.05,353.56 357.55,353.56" fill="#fff" stroke="#1f64cc" stroke-width="1.3" stroke-linejoin="miter"/>
<polygon points="370.57,346.26 372.83,349.71 368.32,349.71" fill="#fff" stroke="#1f64cc" stroke-width="1.3" stroke-linejoin="miter"/>
<polygon points="381.35,337.33 383.6,340.78 379.1,340.78" fill="#fff" stroke="#1f64cc" stroke-width="1.3" stroke-linejoin="miter"/>
<polygon points="392.12,336.26 394.38,339.71 389.87,339.71" fill="#fff" stroke="#1f64cc" stroke-width="1.3" stroke-linejoin="miter"/>
<polygon points="402.9,312.86 405.15,316.31 400.65,316.31" fill="#fff" stroke="#1f64cc" stroke-width="1.3" stroke-linejoin="miter"/>
<polygon points="413.68,308.55 415.93,312 411.42,312" fill="#fff" stroke="#1f64cc" stroke-width="1.3" stroke-linejoin="miter"/>
<polygon points="424.45,306.71 426.7,310.16 422.2,310.16" fill="#fff" stroke="#1f64cc" stroke-width="1.3" stroke-linejoin="miter"/>
<polygon points="435.23,330.56 437.48,334.01 432.97,334.01" fill="#fff" stroke="#1f64cc" stroke-width="1.3" stroke-linejoin="miter"/>
<polygon points="446,326.71 448.25,330.16 443.75,330.16" fill="#fff" stroke="#1f64cc" stroke-width="1.3" stroke-linejoin="miter"/>
<polygon points="456.78,343.95 459.03,347.4 454.52,347.4" fill="#fff" stroke="#1f64cc" stroke-width="1.3" stroke-linejoin="miter"/>
<polygon points="467.55,345.64 469.8,349.09 465.3,349.09" fill="#fff" stroke="#1f64cc" stroke-width="1.3" stroke-linejoin="miter"/>
<polygon points="478.33,350.88 480.58,354.33 476.07,354.33" fill="#fff" stroke="#1f64cc" stroke-width="1.3" stroke-linejoin="miter"/>
<polyline points="327.47,352.06 338.25,352.06 349.02,352.21 359.8,352.21 370.57,352.21 381.35,352.21 392.12,352.21 402.9,351.75 413.68,352.06 424.45,351.91 435.23,351.29 446,348.98 456.78,351.91 467.55,344.67 478.33,346.37 489.1,350.68 499.88,348.98 510.65,347.75 521.43,347.75 532.2,342.67" fill="none" stroke="#37a56e" stroke-width="1.25" stroke-linejoin="round" clip-path="url(#cd)"/>
<polygon points="327.47,354.02 329.73,350.57 325.22,350.57" fill="#fff" stroke="#37a56e" stroke-width="1.3" stroke-linejoin="miter"/>
<polygon points="338.25,354.02 340.5,350.57 336,350.57" fill="#fff" stroke="#37a56e" stroke-width="1.3" stroke-linejoin="miter"/>
<polygon points="349.02,354.17 351.28,350.72 346.77,350.72" fill="#fff" stroke="#37a56e" stroke-width="1.3" stroke-linejoin="miter"/>
<polygon points="359.8,354.17 362.05,350.72 357.55,350.72" fill="#fff" stroke="#37a56e" stroke-width="1.3" stroke-linejoin="miter"/>
<polygon points="370.57,354.17 372.83,350.72 368.32,350.72" fill="#fff" stroke="#37a56e" stroke-width="1.3" stroke-linejoin="miter"/>
<polygon points="381.35,354.17 383.6,350.72 379.1,350.72" fill="#fff" stroke="#37a56e" stroke-width="1.3" stroke-linejoin="miter"/>
<polygon points="392.12,354.17 394.38,350.72 389.87,350.72" fill="#fff" stroke="#37a56e" stroke-width="1.3" stroke-linejoin="miter"/>
<polygon points="402.9,353.71 405.15,350.26 400.65,350.26" fill="#fff" stroke="#37a56e" stroke-width="1.3" stroke-linejoin="miter"/>
<polygon points="413.68,354.02 415.93,350.57 411.42,350.57" fill="#fff" stroke="#37a56e" stroke-width="1.3" stroke-linejoin="miter"/>
<polygon points="424.45,353.86 426.7,350.41 422.2,350.41" fill="#fff" stroke="#37a56e" stroke-width="1.3" stroke-linejoin="miter"/>
<polygon points="435.23,353.25 437.48,349.8 432.97,349.8" fill="#fff" stroke="#37a56e" stroke-width="1.3" stroke-linejoin="miter"/>
<polygon points="446,350.94 448.25,347.49 443.75,347.49" fill="#fff" stroke="#37a56e" stroke-width="1.3" stroke-linejoin="miter"/>
<polygon points="456.78,353.86 459.03,350.41 454.52,350.41" fill="#fff" stroke="#37a56e" stroke-width="1.3" stroke-linejoin="miter"/>
<polygon points="467.55,346.63 469.8,343.18 465.3,343.18" fill="#fff" stroke="#37a56e" stroke-width="1.3" stroke-linejoin="miter"/>
<polygon points="478.33,348.32 480.58,344.87 476.07,344.87" fill="#fff" stroke="#37a56e" stroke-width="1.3" stroke-linejoin="miter"/>
<polygon points="489.1,352.63 491.35,349.18 486.85,349.18" fill="#fff" stroke="#37a56e" stroke-width="1.3" stroke-linejoin="miter"/>
<polygon points="499.88,350.94 502.13,347.49 497.62,347.49" fill="#fff" stroke="#37a56e" stroke-width="1.3" stroke-linejoin="miter"/>
<polygon points="510.65,349.71 512.9,346.26 508.4,346.26" fill="#fff" stroke="#37a56e" stroke-width="1.3" stroke-linejoin="miter"/>
<polygon points="521.43,349.71 523.68,346.26 519.17,346.26" fill="#fff" stroke="#37a56e" stroke-width="1.3" stroke-linejoin="miter"/>
<polygon points="532.2,344.63 534.45,341.18 529.95,341.18" fill="#fff" stroke="#37a56e" stroke-width="1.3" stroke-linejoin="miter"/>
<line x1="370.57" y1="353.6" x2="370.57" y2="349.6" stroke="#2a2a2a" stroke-width="1.1"/>
<line x1="424.45" y1="353.6" x2="424.45" y2="349.6" stroke="#2a2a2a" stroke-width="1.1"/>
<line x1="478.33" y1="353.6" x2="478.33" y2="349.6" stroke="#2a2a2a" stroke-width="1.1"/>
<line x1="343.64" y1="353.6" x2="343.64" y2="351.4" stroke="#2a2a2a" stroke-width="1.1"/>
<line x1="397.51" y1="353.6" x2="397.51" y2="351.4" stroke="#2a2a2a" stroke-width="1.1"/>
<line x1="451.39" y1="353.6" x2="451.39" y2="351.4" stroke="#2a2a2a" stroke-width="1.1"/>
<line x1="505.26" y1="353.6" x2="505.26" y2="351.4" stroke="#2a2a2a" stroke-width="1.1"/>
<line x1="316.7" y1="276.65" x2="320.7" y2="276.65" stroke="#2a2a2a" stroke-width="1.1"/>
<line x1="316.7" y1="315.12" x2="318.9" y2="315.12" stroke="#2a2a2a" stroke-width="1.1"/>
<line x1="316.7" y1="238.18" x2="318.9" y2="238.18" stroke="#2a2a2a" stroke-width="1.1"/>
<rect x="316.7" y="199.7" width="215.5" height="153.9" fill="none" stroke="#2a2a2a" stroke-width="1.4"/>
<text x="311.7" y="357.3" font-size="11.4" text-anchor="end" fill="#000">0</text>
<text x="311.7" y="280.35" font-size="11.4" text-anchor="end" fill="#000">50</text>
<text x="311.7" y="203.4" font-size="11.4" text-anchor="end" fill="#000">100</text>
<text x="316.7" y="367" font-size="11.4" text-anchor="middle" fill="#000">0</text>
<text x="370.57" y="367" font-size="11.4" text-anchor="middle" fill="#000">5</text>
<text x="424.45" y="367" font-size="11.4" text-anchor="middle" fill="#000">10</text>
<text x="478.33" y="367" font-size="11.4" text-anchor="middle" fill="#000">15</text>
<text x="532.2" y="367" font-size="11.4" text-anchor="middle" fill="#000">20</text>
<text x="424.6" y="379.8" font-size="11.4" text-anchor="middle" fill="#000">R(atom)</text>
<text x="293.8" y="276.6" font-size="11.4" text-anchor="middle" transform="rotate(-90 293.8 276.6)" fill="#000">number</text>
<text x="328.1" y="210.7" font-size="11.4" text-anchor="middle" fill="#000">(d)</text>
<line x1="461.3" y1="211.7" x2="486.3" y2="211.7" stroke="#4a4a4a" stroke-width="1.2"/>
<rect x="472" y="209.7" width="4" height="4" fill="#fff" stroke="#4a4a4a" stroke-width="1.2"/>
<text x="487.2" y="215.4" font-size="11.8" font-style="italic" fill="#000">f= 20%</text>
<line x1="461.3" y1="224.9" x2="486.3" y2="224.9" stroke="#d4404a" stroke-width="1.2"/>
<circle cx="474" cy="224.9" r="2.2" fill="#fff" stroke="#d4404a" stroke-width="1.2"/>
<text x="487.2" y="228.6" font-size="11.8" font-style="italic" fill="#000">f= 17%</text>
<line x1="461.3" y1="238.6" x2="486.3" y2="238.6" stroke="#1f64cc" stroke-width="1.2"/>
<polygon points="474,236.22 476.74,240.42 471.26,240.42" fill="#fff" stroke="#1f64cc" stroke-width="1.2" stroke-linejoin="miter"/>
<text x="487.2" y="242.3" font-size="11.8" font-style="italic" fill="#000">f= 15%</text>
<line x1="461.3" y1="252.7" x2="486.3" y2="252.7" stroke="#37a56e" stroke-width="1.2"/>
<polygon points="474,255.08 476.74,250.88 471.26,250.88" fill="#fff" stroke="#37a56e" stroke-width="1.2" stroke-linejoin="miter"/>
<text x="487.2" y="256.4" font-size="11.8" font-style="italic" fill="#000">f= 13%</text>
</svg></body></html>
